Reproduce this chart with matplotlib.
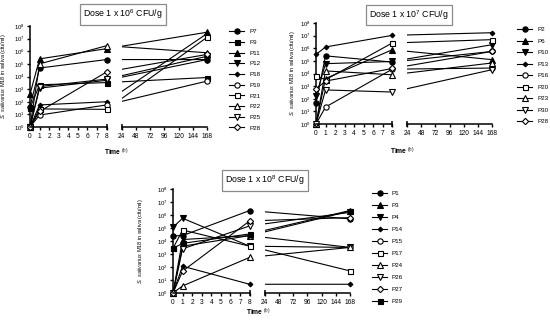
import numpy as np
import matplotlib
matplotlib.use("Agg")
import matplotlib.pyplot as plt
from matplotlib.ticker import LogLocator, NullLocator, LogFormatterSciNotation, FixedLocator

plt.rcParams['font.family'] = ['Liberation Sans', 'DejaVu Sans']
plt.rcParams['mathtext.fontset'] = 'custom'
plt.rcParams['mathtext.rm'] = 'Liberation Sans'
plt.rcParams['mathtext.it'] = 'Liberation Sans:italic'
plt.rcParams['mathtext.bf'] = 'Liberation Sans:bold'

# ---------------- data ----------------
times = [0, 1, 8, 168]
left_ticks = [0, 1, 2, 3, 4, 5, 6, 7, 8]
right_ticks = [24, 48, 72, 96, 120, 144, 168]

# Dose 1 x 10^6 CFU/g
names_6 = ["P7", "P9", "P11", "P12", "P18", "P19", "P21", "P22", "P25", "P28"]
P7 = [40, 4.7e4, 2.2e5, 2.2e5]
P9 = [32, 2200, 3300, 8300]
P11 = [400, 2.5e5, 1.6e6, 3.2e7]
P12 = [1, 1200, 5000, 2.2e5]
P18 = [1, 56, 100, 2.5e7]
P19 = [1, 8.9, 56, 4300]
P21 = [1, 27, 25, 1.26e7]
P22 = [1, 1e5, 2.75e6, 7.6e5]
P25 = [1, 1600, 6200, 4e5]
P28_6 = [1, 17, 2.3e4, 5.6e5]
values_6 = [P7, P9, P11, P12, P18, P19, P21, P22, P25, P28_6]

# Dose 1 x 10^7 CFU/g
names_7 = ["P2", "P6", "P10", "P13", "P16", "P20", "P23", "P30", "P28"]
P2 = [46, 2.5e5, 8e4, 5.6e5]
P6 = [1, 4000, 7.6e5, 1.25e5]
P10 = [160, 6e4, 9e4, 1.9e6]
P13 = [3.2e5, 1.26e6, 1.05e7, 1.7e7]
P16 = [1, 22, 2.2e4, 2.7e4]
P20 = [6800, 3200, 2.6e6, 4.8e6]
P23 = [1, 1.6e4, 7900, 6.8e4]
P30 = [1, 500, 340, 2e4]
P28_7 = [590, 2500, 2.5e4, 5.6e5]
values_7 = [P2, P6, P10, P13, P16, P20, P23, P30, P28_7]

# Dose 1 x 10^8 CFU/g
names_8 = ["P1", "P3", "P4", "P14", "P15", "P17", "P24", "P26", "P27", "P29"]
P1 = [2.5e4, 2.6e4, 2.2e6, 5e5]
P3 = [1, 1.3e4, 2.6e4, 2e6]
P4 = [1.15e5, 5.6e5, 4000, 3200]
P14 = [1, 115, 4.7, 4.7]
P15 = [1, 4000, 2.6e4, 3200]
P17 = [2700, 7e4, 4000, 50]
P24 = [1, 3.5, 550, 3200]
P26 = [1, 2500, 1.45e5, 1.6e6]
P27 = [1, 48, 3.5e5, 6.3e5]
P29 = [2700, 6600, 3.5e4, 2.2e6]
values_8 = [P1, P3, P4, P14, P15, P17, P24, P26, P27, P29]

titles = ["Dose 1 x 10$^{6}$ CFU/g", "Dose 1 x 10$^{7}$ CFU/g", "Dose 1 x 10$^{8}$ CFU/g"]

# marker styles (marker, filled, size)
st_6 = [('o', True, 3.8), ('s', True, 3.6), ('^', True, 4.0), ('v', True, 4.0), ('D', True, 2.4),
        ('o', False, 3.8), ('s', False, 3.6), ('^', False, 4.0), ('v', False, 4.0), ('D', False, 3.2)]
st_7 = [('o', True, 3.8), ('^', True, 4.0), ('v', True, 4.0), ('D', True, 2.4), ('o', False, 3.8),
        ('s', False, 3.6), ('^', False, 4.0), ('v', False, 4.0), ('D', False, 3.2)]
st_8 = [('o', True, 3.8), ('^', True, 4.0), ('v', True, 4.0), ('D', True, 2.4), ('o', False, 3.8),
        ('s', False, 3.6), ('^', False, 4.0), ('v', False, 4.0), ('D', False, 3.2), ('s', True, 3.6)]

# ---------------- broken time scale ----------------
G = 1.57   # gap width (display units)
R = 8.9    # width of 24-168 segment (display units)

def fwd(t):
    t = np.asarray(t, dtype=float)
    return np.where(t <= 8, t, np.where(t < 24, 8 + (t - 8) / 16 * G, 8 + G + (t - 24) / 144 * R))

def inv(u):
    u = np.asarray(u, dtype=float)
    return np.where(u <= 8, u, np.where(u < 8 + G, 8 + (u - 8) / G * 16, 24 + (u - 8 - G) / R * 144))

W, H = 550, 322
fig = plt.figure(figsize=(W / 100, H / 100), dpi=100)

def px_axes(x0, x1, ytop, ybot):
    return fig.add_axes([x0 / W, 1 - ybot / H, (x1 - x0) / W, (ybot - ytop) / H])

def draw_panel(ax, names, values, styles, title, title_xy, leg_xy, leg_spacing, xlab_x, xlab_pad, ylab_x):
    ax.set_xscale('function', functions=(fwd, inv))
    ax.set_yscale('log')
    for name, vals, (m, filled, ms) in zip(names, values, styles):
        ax.plot(times, vals, color='black', lw=0.8, zorder=2, clip_on=False)
        ax.plot(times, vals, linestyle='none', marker=m, ms=ms, mec='black', mew=0.8,
                mfc='black' if filled else 'white', zorder=4, clip_on=False)
        ax.plot([], [], color='black', lw=0.8, marker=m, ms=ms, mec='black', mew=0.8,
                mfc='black' if filled else 'white', label=name)
    ax.axvspan(8, 24, color='white', zorder=3, lw=0)
    ax.set_xlim(0, 168)
    ax.set_ylim(1, 1e8)
    ax.yaxis.set_major_locator(LogLocator(base=10, numticks=20))
    ax.yaxis.set_minor_locator(NullLocator())
    ax.yaxis.set_major_formatter(LogFormatterSciNotation())
    ax.xaxis.set_major_locator(FixedLocator(left_ticks + right_ticks))
    ax.set_xticklabels([str(t) for t in left_ticks + right_ticks])
    for s in ['top', 'right', 'bottom']:
        ax.spines[s].set_visible(False)
    ax.spines['left'].set_linewidth(1.1)
    tr = ax.get_xaxis_transform()
    ax.plot([0, 8], [0, 0], transform=tr, color='black', lw=1.1, clip_on=False, zorder=5)
    ax.plot([24, 168], [0, 0], transform=tr, color='black', lw=1.1, clip_on=False, zorder=5)
    ax.plot([8, 24], [0, 0], transform=tr, linestyle='none', marker='|', ms=5, mew=1.1,
            color='black', clip_on=False, zorder=5)
    ax.tick_params(axis='both', direction='out', length=2.5, width=1.0, labelsize=4.8, pad=1.5)
    ax.tick_params(axis='y', labelsize=4.3)
    ax.set_ylabel(r"$\it{S.\ salivarius}$ M18 in saliva (cfu/ml)", fontsize=4)
    ax.yaxis.set_label_coords(ylab_x, 0.5)
    ax.set_xlabel(r"$\mathbf{Time}$ $^{(h)}$", fontsize=4.8)
    ax.xaxis.set_label_coords(xlab_x, xlab_pad)
    ax.set_facecolor('none')
    fig.text(title_xy[0] / W, 1 - title_xy[1] / H, title, ha='center', va='center', fontsize=6.3,
             bbox=dict(boxstyle='square,pad=0.4', fc='white', ec='#8a8a8a', lw=0.9))
    ax.legend(loc='upper left', bbox_to_anchor=(leg_xy[0] / W, 1 - leg_xy[1] / H),
              bbox_transform=fig.transFigure, frameon=False, fontsize=4.5,
              handlelength=2.4, handletextpad=0.8, labelspacing=leg_spacing,
              borderpad=0, borderaxespad=0)

ax1 = px_axes(30, 207, 26, 127)
ax2 = px_axes(316, 492, 23, 124)
ax3 = px_axes(173, 350, 189, 293)

draw_panel(ax1, names_6, values_6, st_6, titles[0], (123, 14.5), (229, 29), 0.85, 0.49, -0.2, -0.125)
draw_panel(ax2, names_7, values_7, st_7, titles[1], (409, 15), (517, 27), 0.98, 0.49, -0.21, -0.11)
draw_panel(ax3, names_8, values_8, st_8, titles[2], (265, 180.5), (372, 191), 1.05, 0.48, -0.13, -0.16)

fig.savefig("out.png", dpi=100)
